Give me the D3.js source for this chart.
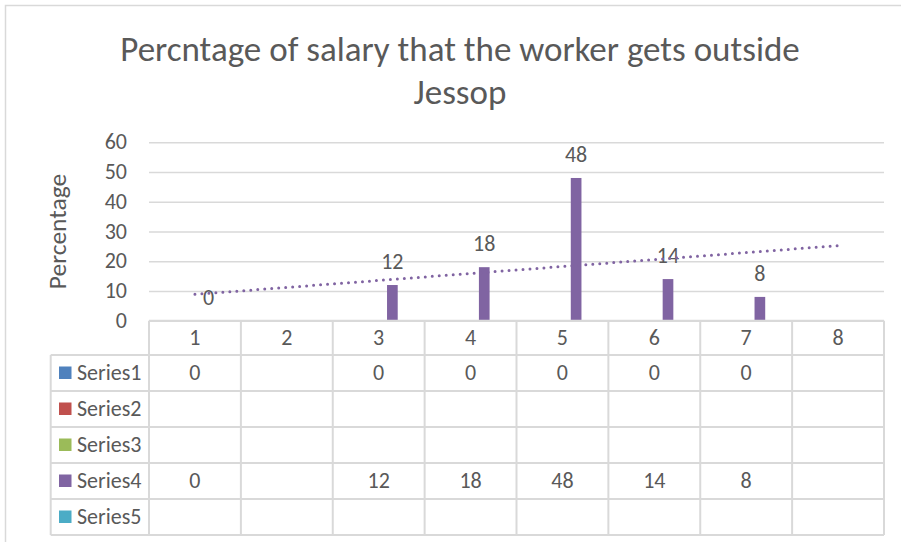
<!DOCTYPE html>
<html lang="en">
<head>
  <meta charset="UTF-8">
  <title>Percntage of salary</title>
  <script src="https://d3js.org/d3.v7.min.js"></script>
  <style>
    body { margin: 0; background: #fff; }
    svg text { font-family: Carlito, "Open Sans", sans-serif; fill: #595959; }
  </style>
</head>
<body>
  <svg id="chart" width="901" height="542"></svg>
  <script>
    const categories = ["1", "2", "3", "4", "5", "6", "7", "8"];
    const seriesNames = ["Series1", "Series2", "Series3", "Series4", "Series5"];
    const series1 = [0, null, 0, 0, 0, 0, 0, null];
    const series2 = [null, null, null, null, null, null, null, null];
    const series3 = [null, null, null, null, null, null, null, null];
    const series4 = [0, null, 12, 18, 48, 14, 8, null];
    const series5 = [null, null, null, null, null, null, null, null];
    const yTicks = [0, 10, 20, 30, 40, 50, 60];
    const colors = ["#4F81BD", "#C0504D", "#9BBB59", "#8064A2", "#4BACC6"];

    const allSeries = [series1, series2, series3, series4, series5];

    const svg = d3.select("#chart");
    const grid = "#D9D9D9";
    const font = "Carlito, 'Open Sans', sans-serif";
    const fs = 22;

    // chart border (runs off the right and bottom edge)
    svg.append("rect")
      .attr("x", 5.5).attr("y", 5.5)
      .attr("width", 960).attr("height", 600)
      .attr("fill", "none").attr("stroke", grid).attr("stroke-width", 1.5);

    const plot = { left: 149, right: 884, top: 142.3, bottom: 320.7 };
    const rowH = 36, headH = 34.3, legendLeft = 50.7;

    const x0 = d3.scaleBand().domain(categories).range([plot.left, plot.right]);
    const x1 = d3.scaleBand().domain(seriesNames)
      .range([x0.bandwidth() * 0.144, x0.bandwidth() * 0.856])
      .paddingInner(0.22);
    const y = d3.scaleLinear().domain([0, 60]).range([plot.bottom, plot.top]);

    // gridlines + y labels
    const yAxis = svg.append("g")
      .attr("transform", `translate(${plot.left},0)`)
      .call(d3.axisLeft(y).tickValues(yTicks).tickSize(-(plot.right - plot.left)).tickPadding(22));
    yAxis.select(".domain").remove();
    yAxis.selectAll(".tick line").attr("stroke", grid).attr("stroke-width", 1.5);
    yAxis.selectAll(".tick text")
      .attr("font-size", fs).attr("fill", "#595959")
      .attr("font-family", font)
      .attr("dy", "0.3em");

    // y title
    svg.append("text")
      .attr("transform", `translate(66,${(plot.top + plot.bottom) / 2 + 0}) rotate(-90)`)
      .attr("text-anchor", "middle")
      .attr("font-size", 25.5)
      .text("Percentage");

    // title
    const title = svg.append("text")
      .attr("text-anchor", "middle")
      .attr("font-size", 35);
    title.append("tspan").attr("x", 460).attr("y", 61).text("Percntage of salary that the worker gets outside");
    title.append("tspan").attr("x", 460).attr("y", 104).text("Jessop");

    // bars
    const barData = [];
    allSeries.forEach((s, si) => s.forEach((v, ci) => {
      if (v !== null) barData.push({ series: seriesNames[si], cat: categories[ci], value: v, color: colors[si] });
    }));

    svg.append("g").selectAll("rect")
      .data(barData)
      .join("rect")
      .attr("x", d => x0(d.cat) + x1(d.series))
      .attr("y", d => y(d.value))
      .attr("width", x1.bandwidth())
      .attr("height", d => plot.bottom - y(d.value))
      .attr("fill", d => d.color);

    // data labels (Series4)
    svg.append("g").selectAll("text")
      .data(barData.filter(d => d.series === "Series4"))
      .join("text")
      .attr("x", d => x0(d.cat) + x1(d.series) + x1.bandwidth() / 2)
      .attr("y", d => y(d.value) - 16)
      .attr("text-anchor", "middle")
      .attr("font-size", fs)
      .attr("fill", "#404040")
      .text(d => d.value);

    // linear trendline for Series4
    const pts = series4.map((v, i) => ({ x: i + 1, v })).filter(d => d.v !== null);
    const mx = d3.mean(pts, d => d.x), my = d3.mean(pts, d => d.v);
    const slope = d3.sum(pts, d => (d.x - mx) * (d.v - my)) / d3.sum(pts, d => (d.x - mx) ** 2);
    const intercept = my - slope * mx;
    const trendX = [1, categories.length];
    svg.append("path")
      .datum(trendX)
      .attr("d", d3.line()
        .x(d => x0(categories[d - 1]) + x0.bandwidth() / 2)
        .y(d => y(intercept + slope * d)))
      .attr("fill", "none")
      .attr("stroke", colors[3])
      .attr("stroke-width", 3)
      .attr("stroke-linecap", "round")
      .attr("stroke-dasharray", "0 7");

    // data table
    const table = svg.append("g");
    const tableBottom = plot.bottom + headH + rowH * seriesNames.length;
    // header row: category labels
    table.selectAll("text.cat")
      .data(categories)
      .join("text")
      .attr("class", "cat")
      .attr("x", d => x0(d) + x0.bandwidth() / 2)
      .attr("y", plot.bottom + headH / 2 + 7)
      .attr("text-anchor", "middle")
      .attr("font-size", fs)
      .text(d => d);

    // vertical lines
    const vx = categories.map(c => x0(c)).concat([plot.right]);
    table.selectAll("line.v")
      .data(vx)
      .join("line")
      .attr("x1", d => d).attr("x2", d => d)
      .attr("y1", plot.bottom).attr("y2", tableBottom)
      .attr("stroke", grid).attr("stroke-width", 2);
    table.append("line")
      .attr("x1", legendLeft).attr("x2", legendLeft)
      .attr("y1", plot.bottom + headH).attr("y2", tableBottom)
      .attr("stroke", grid).attr("stroke-width", 2);

    // horizontal lines
    const hy = d3.range(seriesNames.length + 1).map(i => plot.bottom + headH + rowH * i);
    table.selectAll("line.h")
      .data(hy)
      .join("line")
      .attr("x1", legendLeft).attr("x2", plot.right)
      .attr("y1", d => d).attr("y2", d => d)
      .attr("stroke", grid).attr("stroke-width", 2);
    table.append("line")
      .attr("x1", plot.left).attr("x2", plot.right)
      .attr("y1", plot.bottom).attr("y2", plot.bottom)
      .attr("stroke", grid).attr("stroke-width", 2);

    // rows
    seriesNames.forEach((name, si) => {
      const cy = plot.bottom + headH + rowH * si + rowH / 2;
      table.append("rect")
        .attr("x", 59).attr("y", cy - 6.5)
        .attr("width", 12.5).attr("height", 12.5)
        .attr("fill", colors[si]);
      table.append("text")
        .attr("x", 77).attr("y", cy + 7)
        .attr("font-size", fs)
        .text(name);
      table.selectAll(null)
        .data(allSeries[si].map((v, ci) => ({ v, cat: categories[ci] })).filter(d => d.v !== null))
        .join("text")
        .attr("x", d => x0(d.cat) + x0.bandwidth() / 2)
        .attr("y", cy + 7)
        .attr("text-anchor", "middle")
        .attr("font-size", fs)
        .text(d => d.v);
    });
  </script>
</body>
</html>
